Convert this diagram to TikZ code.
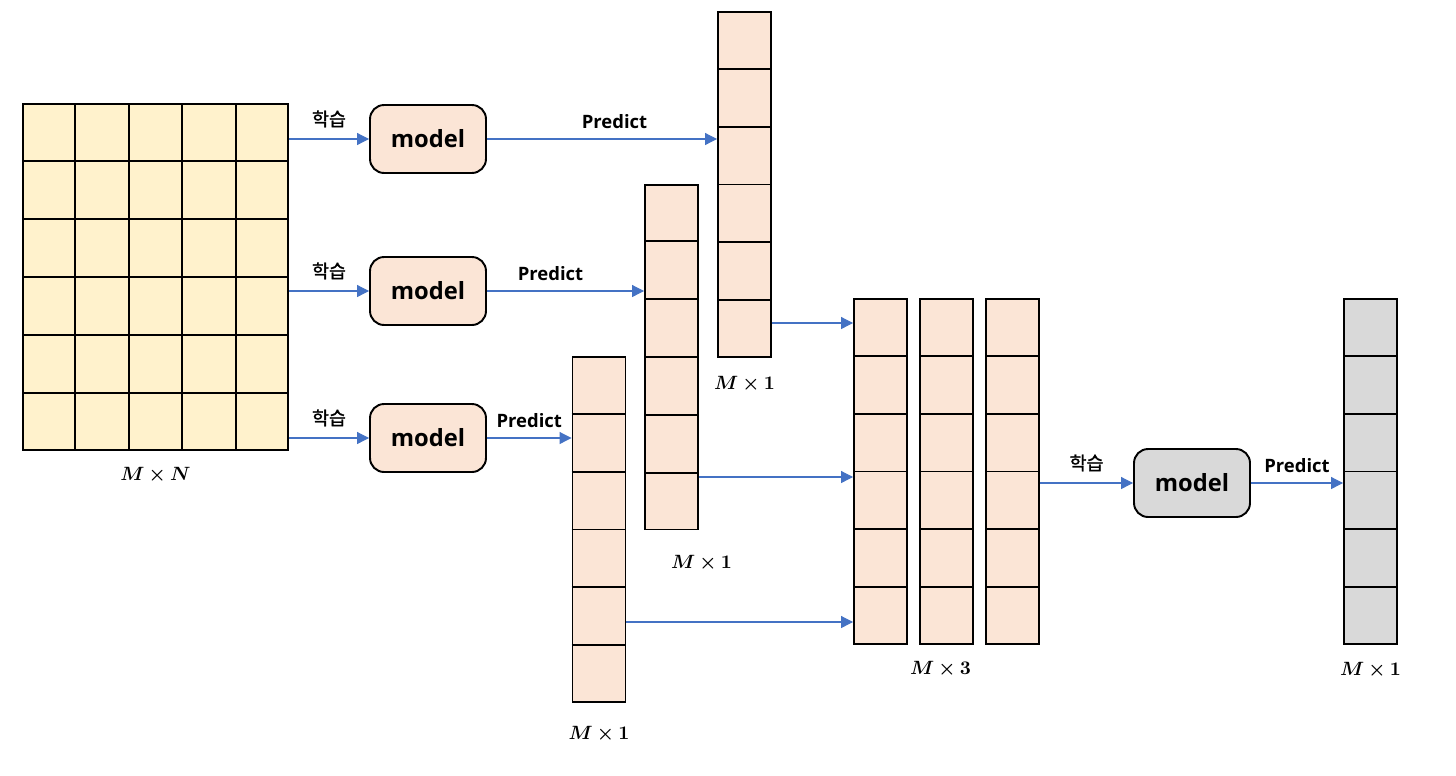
\documentclass[tikz,border=0pt]{standalone}
\usepackage[no-math]{fontspec}
\usepackage{bm}
\usepackage{xcolor}
\setmainfont{Open Sans}
\newfontfamily\kofont[FakeBold=1.5]{Noto Sans CJK KR}
\usetikzlibrary{arrows.meta}
\usetikzlibrary{calc}
\usetikzlibrary{positioning}

\definecolor{gridfill}{HTML}{FFF2CC}
\definecolor{cellfill}{HTML}{FBE5D6}
\definecolor{grayfill}{HTML}{D9D9D9}
\definecolor{arrblue}{HTML}{4472C4}

\begin{document}
\begin{tikzpicture}[x=0.02cm,y=-0.02cm,line width=1.1pt]
  \tikzstyle{model}=[draw, rounded corners=8pt, fill=cellfill, minimum width=2.32cm, minimum height=1.36cm, font=\fontsize{13.5}{15}\selectfont\bfseries]
  \tikzstyle{col}=[draw, fill=cellfill, minimum width=1.06cm, minimum height=6.9cm, inner sep=0pt]
  \tikzstyle{arr}=[-{Triangle[length=6.8pt,width=6.8pt]}, arrblue, line width=0.6pt]
  \tikzstyle{train}=[above=3pt, text=black, font=\kofont\fontsize{10.5}{12}\selectfont]
  \tikzstyle{pred}=[above=2pt, text=black, font=\fontsize{10.5}{12}\selectfont\bfseries]
  \tikzstyle{dim}=[font=\fontsize{10.5}{12}\selectfont]
  \useasboundingbox (0,0) rectangle (1456,775);

  % data matrix
  \node[draw, fill=gridfill, minimum width=5.3cm, minimum height=6.92cm, inner sep=0pt] (grid) at (155.5,277) {};
  \foreach \k in {1,...,4}
    \draw ($(grid.north west)!\k/5!(grid.north east)$) -- ($(grid.south west)!\k/5!(grid.south east)$);
  \foreach \k in {1,...,5}
    \draw ($(grid.north west)!\k/6!(grid.south west)$) -- ($(grid.north east)!\k/6!(grid.south east)$);
  \node[dim] (lgrid) [below=0.2cm of grid] {$\bm{M \times N}$};

  % first level models
  \node[model] (m1) at (428,139) {model};
  \node[model] (m2) at (428,291) {model};
  \node[model] (m3) at (428,438) {model};

  % predictions
  \node[col] (colA) at (744.5,184.5) {};
  \node[col] (colB) at (671.5,357) {};
  \node[col] (colC) at (599,529.5) {};

  % stacked predictions
  \node[col] (s1) at (880.5,471.5) {};
  \node[col] (s2) at (946.5,471.5) {};
  \node[col] (s3) at (1012.5,471.5) {};

  % second level
  \node[model, fill=grayfill] (m4) at (1192,483) {model};
  \node[col, fill=grayfill] (out) at (1370.5,471.5) {};

  \foreach \c in {colA,colB,colC,s1,s2,s3,out}
    \foreach \k in {1,...,5}
      \draw ($(\c.north west)!\k/6!(\c.south west)$) -- ($(\c.north east)!\k/6!(\c.south east)$);

  \node[dim] (lA) [below=0.24cm of colA] {$\bm{M \times 1}$};
  \node[dim] (lB) [below=0.36cm of colB, xshift=0.6cm] {$\bm{M \times 1}$};
  \node[dim] (lC) [below=0.33cm of colC] {$\bm{M \times 1}$};
  \node[dim] (lS) [below=0.2cm of s2, xshift=-0.12cm] {$\bm{M \times 3}$};
  \node[dim] (lO) [below=0.22cm of out] {$\bm{M \times 1}$};

  \draw[arr] (grid.east |- m1) -- node[train] {학습} (m1.west);
  \draw[arr] (grid.east |- m2) -- node[train] {학습} (m2.west);
  \draw[arr] (grid.east |- m3) -- node[train] {학습} (m3.west);

  \draw[arr] (m1.east) -- node[pred, xshift=0.25cm] {Predict} (m1.east -| colA.west);
  \draw[arr] (m2.east) -- node[pred, xshift=-0.3cm] {Predict} (m2.east -| colB.west);
  \draw[arr] (m3.east) -- node[pred] {Predict} (m3.east -| colC.west);

  \draw[arr] (colA.east |- 0,323) -- (s1.west |- 0,323);
  \draw[arr] (colB.east |- 0,477) -- (s1.west |- 0,477);
  \draw[arr] (colC.east |- 0,622) -- (s1.west |- 0,622);

  \draw[arr] (s3.east |- m4) -- node[train] {학습} (m4.west);
  \draw[arr] (m4.east) -- node[pred] {Predict} (m4.east -| out.west);
\end{tikzpicture}
\end{document}
